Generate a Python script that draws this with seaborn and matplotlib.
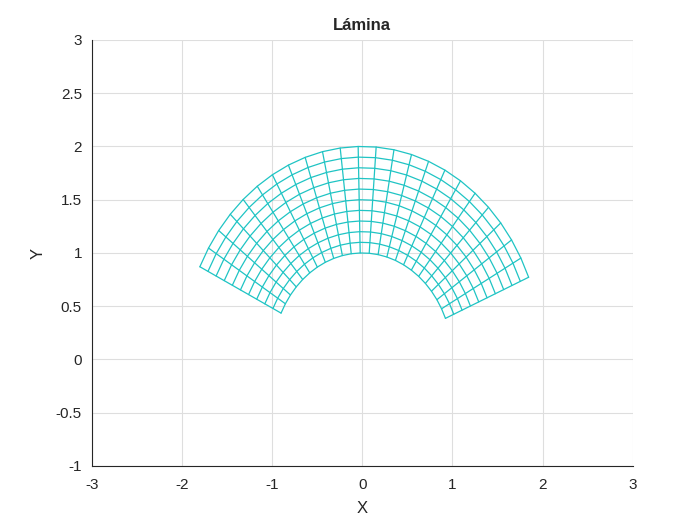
import numpy as np
import pandas as pd
import matplotlib
matplotlib.use('Agg')
import matplotlib.pyplot as plt
import seaborn as sns

# Nodos de la malla (lámina en forma de sector anular)
radios = [1.0, 1.1, 1.2, 1.3, 1.4, 1.5, 1.6, 1.7, 1.8, 1.9, 2.0]
angulos = [22.7, 28.42, 34.13, 39.85, 45.57, 51.28, 57.0, 62.72, 68.43, 74.15,
           79.87, 85.58, 91.3, 97.02, 102.73, 108.45, 114.17, 119.88, 125.6,
           131.32, 137.03, 142.75, 148.47, 154.2]

x_ticks = [-3, -2, -1, 0, 1, 2, 3]
y_ticks = [-1, -0.5, 0, 0.5, 1, 1.5, 2, 2.5, 3]

sns.set_style('white')
plt.rcParams['font.family'] = ['Liberation Sans', 'DejaVu Sans']

# Construir las líneas de la malla (arcos y radios) como tabla
filas = []
linea = 0
th = np.deg2rad(angulos)
for r in radios:
    for t in th:
        filas.append((linea, r * np.cos(t), r * np.sin(t)))
    linea += 1
for t in th:
    for r in (radios[0], radios[-1]):
        filas.append((linea, r * np.cos(t), r * np.sin(t)))
    linea += 1
malla = pd.DataFrame(filas, columns=['linea', 'x', 'y'])

fig = plt.figure(figsize=(7, 5.25), dpi=100)
ax = fig.add_axes([0.131, 0.1124, 0.773, 0.8116])

sns.lineplot(data=malla, x='x', y='y', units='linea', estimator=None,
             sort=False, color='#1fc4c4', linewidth=0.9, ax=ax)

ax.set_xlim(-3, 3)
ax.set_ylim(-1, 3)
ax.set_xticks(x_ticks)
ax.set_yticks(y_ticks)
ax.set_xticklabels([f'{v:g}' for v in x_ticks])
ax.set_yticklabels([f'{v:g}' for v in y_ticks])
ax.grid(True, color='#dedede', linewidth=0.8)
ax.set_axisbelow(True)
for lado in ('top', 'right'):
    ax.spines[lado].set_visible(False)
for lado in ('left', 'bottom'):
    ax.spines[lado].set_color('#262626')
    ax.spines[lado].set_linewidth(0.8)
ax.tick_params(direction='in', length=4, width=0.8, colors='#262626',
               labelsize=11)
ax.tick_params(axis='x', pad=9)
ax.tick_params(axis='y', pad=7)
ax.set_xlabel('X', fontsize=12, color='#262626', labelpad=6)
ax.set_ylabel('Y', fontsize=12, color='#262626', labelpad=7)
ax.set_title('Lámina', fontsize=12, fontweight='bold', pad=7)

plt.savefig('out.png', dpi=100)
